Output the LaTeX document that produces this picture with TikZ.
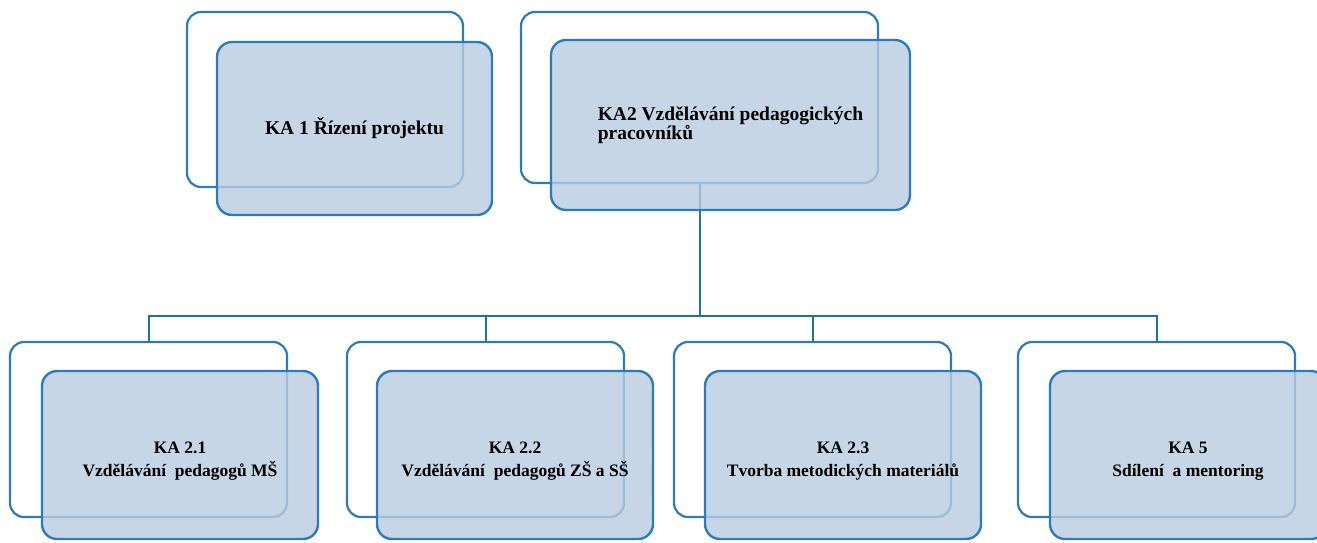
\documentclass[tikz,border=0pt]{standalone}
\usepackage{fontspec}
\setmainfont{Liberation Serif}
\definecolor{edge}{HTML}{2C7CBC}
\definecolor{wire}{HTML}{2170AC}
\definecolor{frontfill}{HTML}{B9CCE0}
\tikzset{
  x=1pt, y=-1pt,
  backbox/.style={draw=edge, line width=2.2pt, rounded corners=14pt, fill=white},
  frontbox/.style={draw=edge, line width=2.4pt, rounded corners=15pt, fill=frontfill, fill opacity=0.8, text opacity=1, font=\bfseries\fontsize{19.5}{19}\selectfont, align=center, inner sep=0pt},
  lowtext/.style={font=\bfseries\fontsize{17.5}{23}\selectfont, align=center, inner sep=0pt},
  conn/.style={draw=wire, line width=2pt}
}
\begin{document}
\begin{tikzpicture}
\useasboundingbox (0,0) rectangle (1317,542);
% back boxes
\node[backbox, minimum width=276pt, minimum height=175pt] (tb1) at (325,99.5) {};
\node[backbox, minimum width=357pt, minimum height=171pt] (tb2) at (699.5,97.5) {};
\node[backbox, minimum width=277pt, minimum height=175pt] (bb1) at (148.5,429.5) {};
\node[backbox, minimum width=277pt, minimum height=175pt] (bb2) at (485.5,429.5) {};
\node[backbox, minimum width=277pt, minimum height=175pt] (bb3) at (812.5,429.5) {};
\node[backbox, minimum width=277pt, minimum height=175pt] (bb4) at (1156.5,429.5) {};
% connectors
\coordinate (bus) at (0,316);
\draw[conn] (tb2.south) -- (tb2.south |- bus);
\draw[conn] (bb1.north) -- (bb1.north |- bus) -- (bb4.north |- bus) -- (bb4.north);
\draw[conn] (bb2.north) -- (bb2.north |- bus);
\draw[conn] (bb3.north) -- (bb3.north |- bus);
% front boxes
\node[frontbox, minimum width=275pt, minimum height=173pt] (tf1) at (354.5,128.5) {KA 1 Řízení projektu};
\node[frontbox, minimum width=359pt, minimum height=170pt, align=left] (tf2) at (730.5,125) {KA2 Vzdělávání pedagogických\\pracovníků};
\node[frontbox, minimum width=276pt, minimum height=168pt] (bf1) at (180,455) {};
\node[frontbox, minimum width=276pt, minimum height=168pt] (bf2) at (515,455) {};
\node[frontbox, minimum width=276pt, minimum height=168pt] (bf3) at (843,455) {};
\node[frontbox, minimum width=276pt, minimum height=168pt] (bf4) at (1188,455) {};
% texts of the lower boxes
\node[lowtext] (l1) at ([yshift=-6pt]bf1.center) {KA 2.1\\Vzdělávání\ \ pedagogů MŠ};
\node[lowtext] (l2) at ([yshift=-6pt]bf2.center) {KA 2.2\\Vzdělávání\ \ pedagogů ZŠ a SŠ};
\node[lowtext] (l3) at ([yshift=-6pt]bf3.center) {KA 2.3\\Tvorba metodických materiálů};
\node[lowtext] (l4) at ([yshift=-6pt]bf4.center) {KA 5\\Sdílení\ \ a mentoring};
\end{tikzpicture}
\end{document}
